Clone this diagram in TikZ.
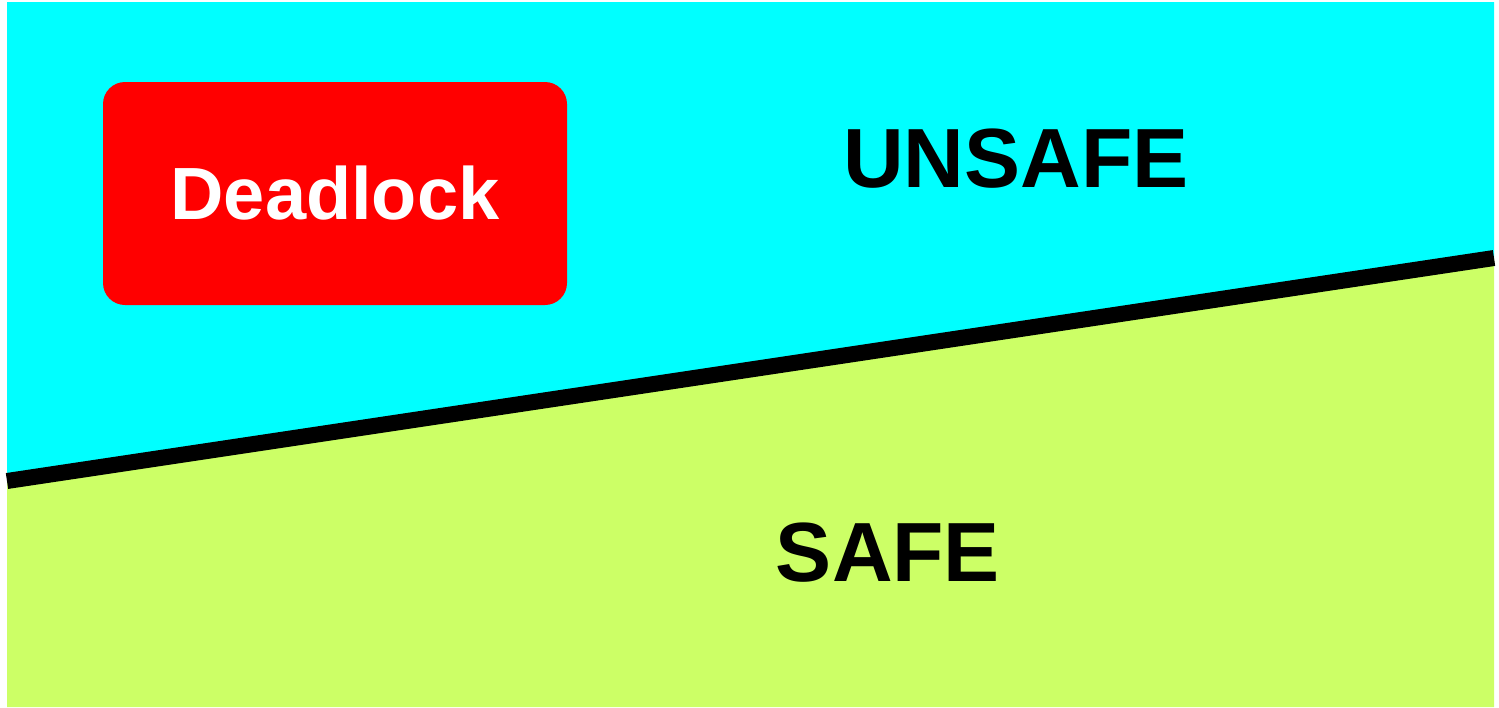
\documentclass[tikz,border=0pt]{standalone}
\usepackage{fontspec}
\setmainfont{Liberation Sans}
\definecolor{unsafecol}{HTML}{00FFFF}
\definecolor{safecol}{HTML}{CCFF66}
\tikzset{
  zone/.style={font=\bfseries\fontsize{42}{48}\selectfont, text=black},
  deadbox/.style={draw=none, fill=red, rounded corners=11pt, minimum width=232pt,
    minimum height=111.5pt, text=white, font=\bfseries\fontsize{37}{43}\selectfont}
}
\begin{document}
\begin{tikzpicture}[x=0.5pt, y=-0.5pt]
            \useasboundingbox (0,0) rectangle (1499,707);
            % Frontera entre las regiones
            \coordinate (izq) at (7,481);
            \coordinate (der) at (1494,258);
            % Region insegura
            \fill[unsafecol] (7,2) -- (1494,2) -- (der) -- (izq) -- cycle;
            % Region segura
            \fill[safecol] (izq) -- (der) -- (1494,707) -- (7,707) -- cycle;
            % Linea divisoria
            \draw[line width=8pt, black] (izq) -- (der);
            % Interbloqueo
            \node[deadbox] (deadlock) at (335,193.5) {Deadlock};
            % Etiquetas
            \node[zone] (unsafe) at (1016,159) {UNSAFE};
            \node[zone] (safe) at (888,553) {SAFE};
        \end{tikzpicture}
\end{document}
